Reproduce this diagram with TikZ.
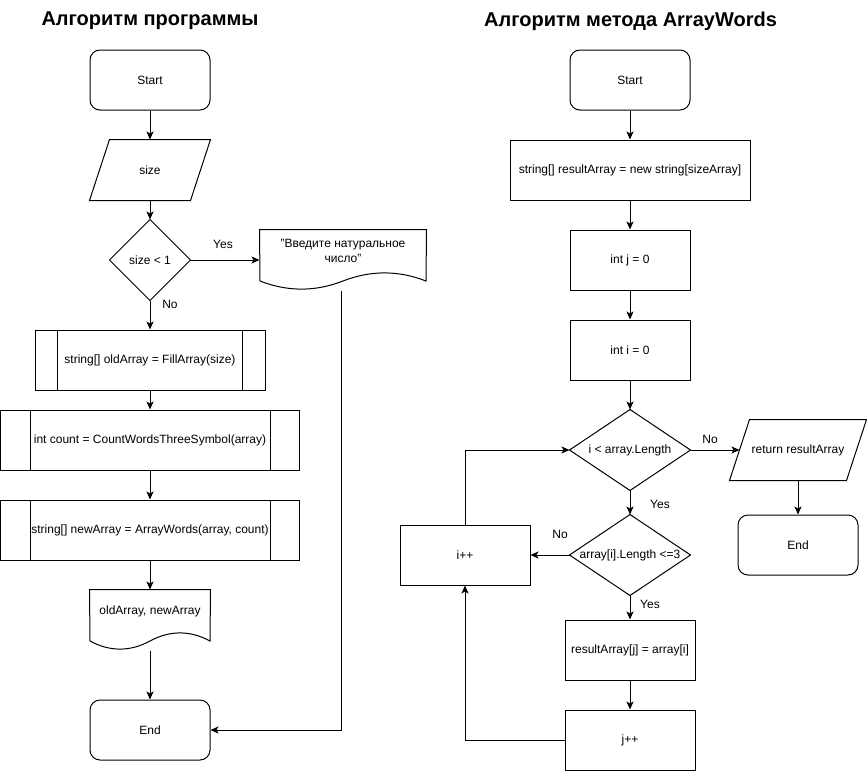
\documentclass[tikz,border=0pt]{standalone}
\usepackage{fontspec}
\setmainfont{Liberation Sans}
\usetikzlibrary{arrows.meta,calc}
\begin{document}
\begin{tikzpicture}[x=1pt,y=-1pt,line width=1pt,
  >={Stealth[length=8pt,width=7pt,inset=2pt]},
  every node/.style={font=\fontsize{12}{15}\selectfont,inner sep=0pt,align=center},
  term/.style={draw,rounded corners=10pt,minimum width=120pt,minimum height=60pt},
  proc/.style={draw,rectangle,minimum height=60pt},
  ghost/.style={minimum height=60pt},
  title/.style={font=\bfseries\fontsize{20}{24}\selectfont},
  lbl/.style={font=\fontsize{12}{15}\selectfont}]
\fill[white] (0,0) rectangle (867,771);
\useasboundingbox (0,0) rectangle (867,771);

% ---------- titles
\node[title] (t1) at (150,21) {Алгоритм программы};
\node[title] (t2) at (630.5,21) {Алгоритм метода ArrayWords};

% ---------- left flowchart
\node[term] (s1) at (150,80) {Start};
\node[ghost,minimum width=120pt] (in1) at (150,170) {size};
\draw ([xshift=20pt]in1.north west) -- (in1.north east) -- ([xshift=-20pt]in1.south east) -- (in1.south west) -- cycle;

\node[minimum width=80pt,minimum height=80pt] (c1) at (150,260) {size < 1};
\draw (c1.north) -- (c1.east) -- (c1.south) -- (c1.west) -- cycle;

\node[minimum width=166pt,minimum height=42pt] (doc1) at (343,251) {"Введите натуральное\\ число"};
\draw (doc1.north west) -- (doc1.north east) -- (426,281)
  .. controls (398.33,270.2) and (370.67,270.2) .. (343,281)
  .. controls (315.33,291.8) and (287.67,291.8) .. (260,281) -- cycle;

\node[proc,minimum width=230pt] (p1) at (150,360) {string[] oldArray = FillArray(size)};
\draw ([xshift=23pt]p1.north west) -- ([xshift=23pt]p1.south west);
\draw ([xshift=-23pt]p1.north east) -- ([xshift=-23pt]p1.south east);

\node[proc,minimum width=299pt] (p2) at (150,440) {int count = CountWordsThreeSymbol(array)};
\draw ([xshift=30pt]p2.north west) -- ([xshift=30pt]p2.south west);
\draw ([xshift=-30pt]p2.north east) -- ([xshift=-30pt]p2.south east);

\node[proc,minimum width=299pt] (p3) at (150,530) {string[] newArray = ArrayWords(array, count)};
\draw ([xshift=30pt]p3.north west) -- ([xshift=30pt]p3.south west);
\draw ([xshift=-30pt]p3.north east) -- ([xshift=-30pt]p3.south east);

\node[minimum width=120pt,minimum height=42pt] (doc2) at (150,611) {oldArray, newArray};
\draw (doc2.north west) -- (doc2.north east) -- (210,641)
  .. controls (190,630.2) and (170,630.2) .. (150,641)
  .. controls (130,651.8) and (110,651.8) .. (90,641) -- cycle;

\node[term] (e1) at (150,730) {End};

\coordinate (d1b) at (341,291);
\coordinate (d2b) at (150,651);

\draw[->] (s1) -- (in1);
\draw[->] (in1) -- (c1);
\draw[->] (c1.east) -- (c1.east -| doc1.west);
\draw[->] (c1.south) -- (p1.north);
\draw[->] (p1) -- (p2);
\draw[->] (p2) -- (p3);
\draw[->] (p3.south) -- (doc2.north);
\draw[->] (d2b) -- (e1.north);
\draw[->] (d1b) |- (e1.east);

\node[lbl] (lyes1) at (223,244) {Yes};
\node[lbl] (lno1) at (170,304) {No};

% ---------- right flowchart
\node[term] (s2) at (630,80) {Start};
\node[proc,minimum width=240pt] (r1) at (630,170) {string[] resultArray = new string[sizeArray]};
\node[proc,minimum width=120pt] (r2) at (630,260) {int j = 0};
\node[proc,minimum width=120pt] (r3) at (630,350) {int i = 0};

\node[minimum width=120pt,minimum height=80pt] (c2) at (630,450) {i < array.Length};
\draw (c2.north) -- (c2.east) -- (c2.south) -- (c2.west) -- cycle;

\node[ghost,minimum width=136pt] (out2) at (798,450) {return resultArray};
\draw ([xshift=20pt]out2.north west) -- (out2.north east) -- ([xshift=-20pt]out2.south east) -- (out2.south west) -- cycle;
\coordinate (out2in) at ([xshift=10pt]out2.west);

\node[term] (e2) at (798,545) {End};

\node[minimum width=120pt,minimum height=80pt] (c3) at (630,555) {array[i].Length <=3};
\draw (c3.north) -- (c3.east) -- (c3.south) -- (c3.west) -- cycle;

\node[proc,minimum width=130pt] (inc) at (465,555) {i++};
\node[proc,minimum width=130pt] (r4) at (630,650) {resultArray[j] = array[i]};
\node[proc,minimum width=130pt] (r5) at (630,740) {j++};

\draw[->] (s2) -- (r1);
\draw[->] (r1) -- (r2);
\draw[->] (r2) -- (r3);
\draw[->] (r3) -- (c2);
\draw[->] (c2.east) -- (out2in);
\draw[->] (out2.south) -- (e2.north);
\draw[->] (c2.south) -- (c3.north);
\draw[->] (c3.west) -- (inc.east);
\draw[->] (c3.south) -- (r4.north);
\draw[->] (r4) -- (r5);
\draw[->] (r5.west) -| (inc.south);
\draw[->] (inc.north) |- (c2.west);

\node[lbl] (lno2) at (710,439) {No};
\node[lbl] (lyes2) at (660,504) {Yes};
\node[lbl] (lno3) at (560,534) {No};
\node[lbl] (lyes3) at (650,604) {Yes};
\end{tikzpicture}
\end{document}
